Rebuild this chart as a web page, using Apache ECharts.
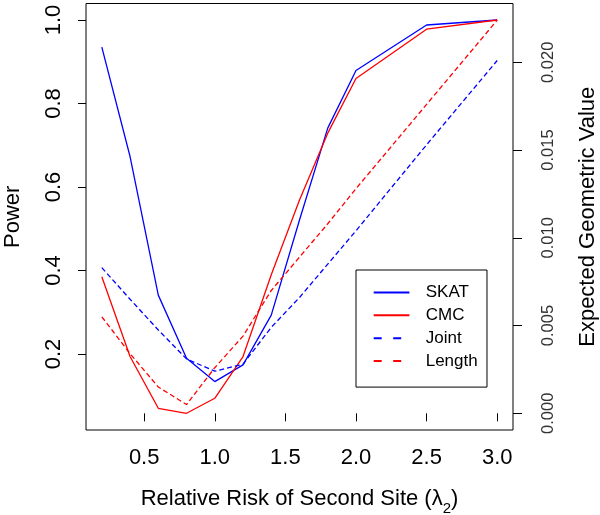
<!DOCTYPE html>
<html>
<head>
<meta charset="utf-8">
<script src="https://cdn.jsdelivr.net/npm/echarts@6/dist/echarts.min.js"></script>
<style>html,body{margin:0;padding:0;background:#fff}#c{width:600px;height:515px}</style>
</head>
<body>
<div id="c"></div>
<script>
var lambda2 = [0.2, 0.4, 0.6, 0.8, 1.0, 1.2, 1.4, 1.6, 1.8, 2.0, 2.5, 3.0];
var skat = [0.935, 0.673, 0.341, 0.19, 0.134, 0.174, 0.293, 0.521, 0.741, 0.879, 0.988, 1.0];
var cmc = [0.385, 0.194, 0.070, 0.058, 0.094, 0.194, 0.39, 0.569, 0.729, 0.86, 0.978, 1.0];
var joint = [0.0083, 0.0065, 0.00475, 0.0031, 0.0024, 0.0028, 0.0049, 0.0066, 0.0085, 0.0104, 0.0153, 0.0201];
var lengthV = [0.0055, 0.0034, 0.0015, 0.0005, 0.0026, 0.0044, 0.0070, 0.0089, 0.0108, 0.0128, 0.0176, 0.0224];
var xTicks = [0.5, 1.0, 1.5, 2.0, 2.5, 3.0];
var powerTicks = [0.2, 0.4, 0.6, 0.8, 1.0];
var geoTicks = [0.000, 0.005, 0.010, 0.015, 0.020];

function pairs(xs, ys) { return xs.map(function (x, i) { return [x, ys[i]]; }); }

var FONT = 'Liberation Sans, Arial, sans-serif';
var chart = echarts.init(document.getElementById('c'));
chart.setOption({
  animation: false,
  textStyle: { fontFamily: FONT },
  grid: { left: 86, top: 3.5, right: 87, bottom: 85, show: true, borderColor: '#000', borderWidth: 1, backgroundColor: 'transparent', outerBoundsMode: 'none', containLabel: false },
  xAxis: {
    type: 'value', min: 0.088, max: 3.112,
    name: '{a|Relative Risk of Second Site (λ}{s|2}{a|)}',
    nameLocation: 'middle', nameGap: 58,
    nameTextStyle: { rich: { a: { fontSize: 22, fontFamily: FONT, color: '#000', verticalAlign: 'top', lineHeight: 28 }, s: { fontSize: 15, fontFamily: FONT, color: '#000', verticalAlign: 'bottom', lineHeight: 28, padding: [9, 0, 0, 0] } } },
    splitLine: { show: false },
    axisLine: { show: false },
    axisTick: { show: true, length: 8, lineStyle: { color: '#000' }, customValues: xTicks },
    axisLabel: { fontSize: 22, color: '#000', margin: 17, customValues: xTicks, formatter: function (v) { return v.toFixed(1); } }
  },
  yAxis: [{
    type: 'value', min: 0.018, max: 1.0395, position: 'left',
    name: 'Power', nameLocation: 'middle', nameGap: 62,
    nameTextStyle: { fontSize: 22, color: '#000' },
    splitLine: { show: false },
    axisLine: { show: false },
    axisTick: { show: true, length: 8, lineStyle: { color: '#000' }, customValues: powerTicks },
    axisLabel: { fontSize: 22, color: '#000', rotate: 90, margin: 21, customValues: powerTicks, formatter: function (v) { return v.toFixed(1); } }
  }, {
    type: 'value', min: -0.00095, max: 0.02335, position: 'right',
    name: 'Expected Geometric Value', nameLocation: 'middle', nameGap: 64,
    nameTextStyle: { fontSize: 22, color: '#000' },
    splitLine: { show: false },
    axisLine: { show: false },
    axisTick: { show: true, length: 9, lineStyle: { color: '#000' }, customValues: geoTicks },
    axisLabel: { fontSize: 16.5, color: '#333', rotate: 90, margin: 27, customValues: geoTicks, formatter: function (v) { return v.toFixed(3); } }
  }],
  legend: {
    orient: 'vertical', left: 356, top: 270,
    borderColor: '#000', borderWidth: 1, borderRadius: 0,
    padding: [13.9, 9.3, 17.5, 16.7],
    itemWidth: 35.7, itemHeight: 14, itemGap: 5.9,
    itemStyle: { opacity: 0 },
    textStyle: { fontSize: 17, color: '#000', lineHeight: 14, padding: [0, 0, 0, 11.3] },
    data: [
      { name: 'SKAT', lineStyle: { width: 2, type: 'solid' } },
      { name: 'CMC', lineStyle: { width: 2, type: 'solid' } },
      { name: 'Joint', lineStyle: { width: 2, type: [8, 11.5] } },
      { name: 'Length', lineStyle: { width: 2, type: [8, 11.5] } }
    ]
  },
  series: [
    { name: 'SKAT', type: 'line', yAxisIndex: 0, data: pairs(lambda2, skat), symbol: 'none', lineStyle: { color: '#0000ff', width: 1.3 }, itemStyle: { color: '#0000ff' } },
    { name: 'CMC', type: 'line', yAxisIndex: 0, data: pairs(lambda2, cmc), symbol: 'none', lineStyle: { color: '#ff0000', width: 1.3 }, itemStyle: { color: '#ff0000' } },
    { name: 'Joint', type: 'line', yAxisIndex: 1, data: pairs(lambda2, joint), symbol: 'none', lineStyle: { color: '#0000ff', width: 1.3, type: [5, 3] }, itemStyle: { color: '#0000ff' } },
    { name: 'Length', type: 'line', yAxisIndex: 1, data: pairs(lambda2, lengthV), symbol: 'none', lineStyle: { color: '#ff0000', width: 1.3, type: [5, 3] }, itemStyle: { color: '#ff0000' } }
  ]
});
</script>
</body>
</html>
